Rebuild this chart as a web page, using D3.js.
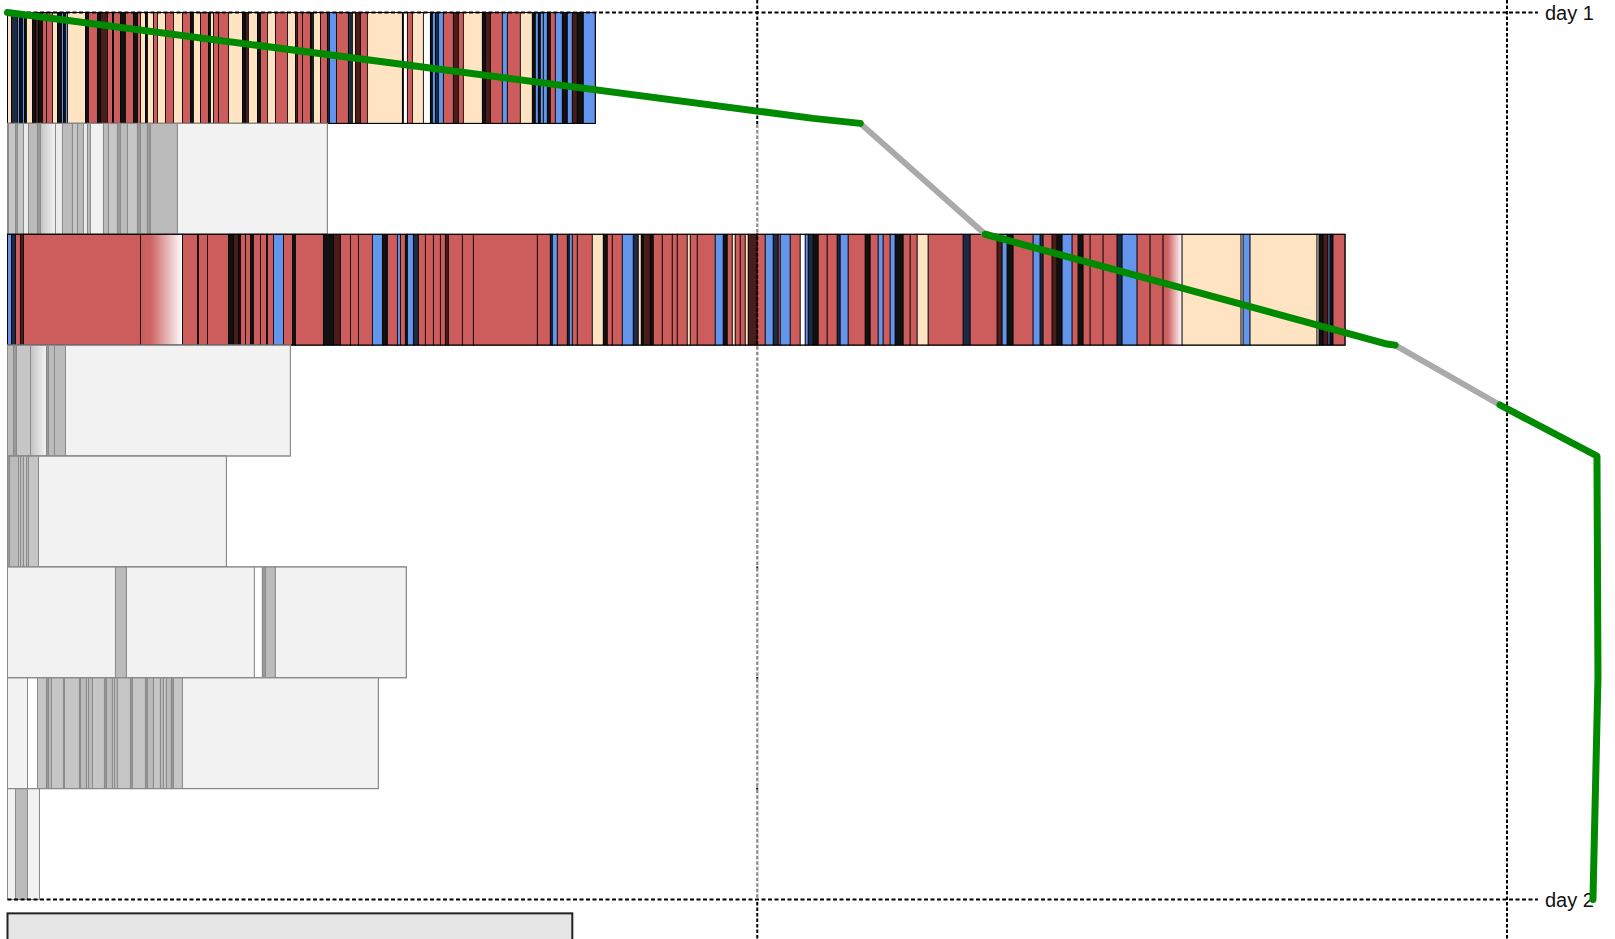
<!DOCTYPE html>
<html>
<head>
<meta charset="utf-8">
<script src="https://cdn.jsdelivr.net/npm/d3@7"></script>
<style>
  body { margin: 0; background: #fff; }
  svg { display: block; }
  text { font-family: "Liberation Sans", Arial, sans-serif; }
</style>
</head>
<body>
<svg id="chart" width="1615" height="939"></svg>
<script>
// each row: [start, colour key], a segment runs to the next start (or the row end)
const row1 = [[0,'b'],[4,'n'],[10,'u'],[12,'k'],[15,'u'],[17,'k'],[19,'b'],[25,'k'],[28,'d'],[31,'k'],
  [35,'r'],[39,'r'],[45,'b'],[50,'k'],[54,'u'],[56,'k'],[58,'u'],[60,'b'],[78,'k'],[81,'r'],[90,'k'],
  [93,'d'],[100,'r'],[105,'k'],[106,'r'],[113,'k'],[118,'r'],[126,'k'],[130,'r'],[133,'b'],[138,'k'],
  [140,'b'],[146,'r'],[150,'b'],[158,'r'],[166,'b'],[175,'r'],[183,'k'],[186,'b'],[193,'r'],[201,'k'],
  [203,'b'],[206,'r'],[211,'r'],[221,'b'],[235,'k'],[238,'d'],[241,'b'],[250,'k'],[253,'r'],[260,'b'],
  [268,'r'],[280,'b'],[288,'d'],[290,'r'],[295,'r'],[303,'k'],[305,'w'],[306,'b'],[313,'r'],[320,'n'],
  [322,'u'],[329,'r'],[341,'n'],[345,'b'],[348,'d'],[353,'r'],[360,'b'],[395,'k'],[396,'w'],[400,'r'],
  [405,'b'],[416,'w'],[423,'k'],[425,'u'],[428,'n'],[431,'u'],[436,'r'],[446,'d'],[451,'r'],[456,'b'],
  [475,'k'],[478,'d'],[483,'r'],[495,'u'],[500,'r'],[513,'b'],[525,'k'],[528,'u'],[531,'k'],[533,'u'],
  [536,'u'],[540,'k'],[543,'r'],[548,'u'],[555,'k'],[560,'u'],[565,'d'],[570,'k'],[576,'u']];

const row2 = [[0,'g9'],[1,'gc'],[8,'g9'],[10,'gc'],[16,'ge'],[21,'gb'],[30,'g9'],[33,'gf'],[48,'ge'],
  [55,'gb'],[65,'gc'],[70,'gb'],[76,'ge'],[80,'gb'],[83,'gl'],[96,'gb'],[101,'gc'],[110,'g9'],[113,'gb'],
  [120,'gc'],[130,'g9'],[133,'gb'],[140,'g9'],[143,'gb'],[170,'gl']];

const row3 = [[0,'u'],[4,'n'],[8,'r'],[13,'d'],[16,'r'],[133,'rf'],[175,'r'],[190,'k'],[191,'r'],[200,'r'],
  [221,'k'],[226,'d'],[231,'k'],[233,'r'],[238,'r'],[243,'k'],[246,'r'],[253,'r'],[259,'k'],[260,'r'],
  [266,'u'],[276,'r'],[285,'k'],[288,'r'],[316,'k'],[326,'d'],[333,'r'],[343,'r'],[351,'r'],[365,'u'],
  [375,'k'],[380,'r'],[390,'u'],[393,'r'],[398,'k'],[400,'u'],[406,'n'],[411,'r'],[418,'r'],[426,'r'],
  [433,'r'],[438,'d'],[441,'r'],[455,'r'],[466,'r'],[530,'r'],[543,'n'],[545,'u'],[550,'r'],[560,'n'],
  [562,'u'],[565,'r'],[570,'r'],[585,'b'],[596,'k'],[600,'r'],[605,'r'],[615,'u'],[626,'n'],[631,'b'],
  [634,'k'],[636,'d'],[643,'k'],[646,'r'],[655,'r'],[665,'r'],[670,'r'],[680,'b'],[683,'r'],[690,'r'],
  [708,'u'],[716,'k'],[720,'r'],[725,'b'],[728,'r'],[733,'r'],[738,'b'],[741,'d'],[750,'r'],[758,'u'],
  [766,'n'],[771,'r'],[773,'u'],[783,'r'],[793,'w'],[798,'u'],[801,'n'],[806,'k'],[811,'r'],[820,'r'],
  [830,'n'],[833,'u'],[841,'r'],[858,'k'],[863,'r'],[871,'u'],[876,'r'],[883,'u'],[888,'k'],[896,'r'],
  [903,'r'],[910,'b'],[921,'r'],[956,'n'],[963,'r'],[990,'d'],[995,'u'],[1000,'k'],[1006,'r'],[1026,'u'],
  [1033,'n'],[1036,'r'],[1045,'d'],[1050,'k'],[1055,'u'],[1065,'r'],[1071,'k'],[1076,'r'],[1083,'r'],
  [1096,'r'],[1110,'n'],[1115,'u'],[1130,'r'],[1143,'r'],[1156,'rf'],[1175,'b'],[1234,'w'],[1236,'u'],
  [1243,'b'],[1310,'w'],[1312,'k'],[1316,'d'],[1321,'u'],[1323,'k'],[1326,'r']];

const row4 = [[0,'gb'],[6,'g9'],[9,'gc'],[23,'gf'],[39,'g9'],[41,'gb'],[47,'gb'],[58,'gl']];
const row5 = [[0,'g9'],[2,'gb'],[11,'gc'],[13,'gb'],[16,'gc'],[19,'gb'],[21,'gc'],[31,'gl']];
const row6 = [[0,'gl'],[108,'gb'],[119,'gl'],[247,'w'],[255,'g9'],[258,'gb'],[268,'gl']];
const row7 = [[0,'gl'],[20,'w'],[30,'gc'],[39,'g9'],[41,'gb'],[44,'gc'],[56,'g9'],[57,'gc'],[72,'g9'],
  [73,'gb'],[79,'gc'],[81,'gb'],[85,'gc'],[97,'g9'],[99,'gb'],[105,'gc'],[107,'gb'],[110,'gc'],[123,'g9'],
  [125,'gc'],[138,'g9'],[140,'gb'],[146,'gc'],[153,'gb'],[156,'gc'],[159,'gb'],[164,'g9'],[166,'gc'],
  [175,'gl']];
const row8 = [[0,'gl'],[8,'gb'],[20,'gl']];

const rows = [row1, row2, row3, row4, row5, row6, row7, row8];
const rowEnds = [588, 320, 1338, 283, 219, 399, 371, 32];
const activeRows = [0, 2];          // rows drawn in colour
const dimRows = [1, 3, 4, 5, 6, 7]; // rows where the first marker is faded

const dayLabels = ['day 1', 'day 2'];
const dayRows = [0, 8];
const markers = [750, 1500];

const footer = [0, 565];
const footerRow = 8.125;

// progress path: [x, row position], and whether each piece is on (green) or off (grey)
const pathPoints = [[0,0],[806,0.955],[853,1],[978,2],[1380,2.99],[1388,3],[1493,3.54],[1590,4],[1591,6],[1586,8]];
const pathKinds = ['on','on','off','on','on','off','on','on','on'];

const keys   = ['r','b','u','k','n','d','w','rf','g9','gb','gc','ge','gl','gf'];
const fills  = ['#cd5c5c','#ffe4c4','#6495ed','#111111','#1d2a44','#4a1c1c','#ffffff','url(#fadeRed)',
                '#9a9a9a','#bbbbbb','#c6c6c6','#ececec','#f2f2f2','url(#fadeGray)'];
const colour = d3.scaleOrdinal(keys, fills);

const x = d3.scaleLinear().domain([0, 1500]).range([7.5, 1507]);
const y = d3.scaleLinear().domain([0, 8]).range([12.5, 899.5]);

const svg = d3.select('#chart');
const defs = svg.append('defs');

const gr = defs.append('linearGradient').attr('id', 'fadeRed');
gr.append('stop').attr('offset', '0%').attr('stop-color', '#cd5c5c');
gr.append('stop').attr('offset', '25%').attr('stop-color', '#cf6464');
gr.append('stop').attr('offset', '100%').attr('stop-color', '#ffffff');

const gg = defs.append('linearGradient').attr('id', 'fadeGray');
gg.append('stop').attr('offset', '0%').attr('stop-color', '#c2c2c2');
gg.append('stop').attr('offset', '100%').attr('stop-color', '#f4f4f4');

// bars
rows.forEach((segs, i) => {
  const active = activeRows.includes(i);
  const data = segs.map((s, j) => ({
    start: s[0],
    end: j < segs.length - 1 ? segs[j + 1][0] : rowEnds[i],
    key: s[1]
  }));
  const g = svg.append('g').attr('class', 'row');
  g.selectAll('rect')
    .data(data)
    .join('rect')
    .attr('x', d => x(d.start))
    .attr('y', y(i))
    .attr('width', d => x(d.end) - x(d.start))
    .attr('height', y(i + 1) - y(i))
    .attr('fill', d => colour(d.key))
    .attr('stroke', active ? '#000' : '#8a8a8a')
    .attr('stroke-width', active ? 0.8 : 1);
  g.append('rect')
    .attr('x', x(0))
    .attr('y', y(i))
    .attr('width', x(rowEnds[i]) - x(0))
    .attr('height', y(i + 1) - y(i))
    .attr('fill', 'none')
    .attr('stroke', active ? '#000' : '#8a8a8a')
    .attr('stroke-width', 1);
});

// footer bar
svg.append('rect')
  .attr('x', x(footer[0]))
  .attr('y', y(footerRow))
  .attr('width', x(footer[1]) - x(footer[0]))
  .attr('height', 60)
  .attr('fill', '#e6e6e6')
  .attr('stroke', '#222')
  .attr('stroke-width', 2);

// day lines and labels
svg.selectAll('line.day')
  .data(dayRows)
  .join('line')
  .attr('class', 'day')
  .attr('x1', x(0))
  .attr('x2', x(1531))
  .attr('y1', d => y(d))
  .attr('y2', d => y(d))
  .attr('stroke', '#000')
  .attr('stroke-width', 2)
  .attr('stroke-dasharray', '4,2.5');

svg.selectAll('text.day')
  .data(dayRows)
  .join('text')
  .attr('class', 'day')
  .attr('x', x(1538))
  .attr('y', d => y(d))
  .attr('dy', '0.38em')
  .attr('font-size', 20)
  .attr('fill', '#111')
  .text((d, i) => dayLabels[i]);

// markers
svg.selectAll('line.marker')
  .data(markers)
  .join('line')
  .attr('class', 'marker')
  .attr('x1', d => x(d))
  .attr('x2', d => x(d))
  .attr('y1', 0)
  .attr('y2', 939)
  .attr('stroke', '#000')
  .attr('stroke-width', 2)
  .attr('stroke-dasharray', '3.5,2');

const dim = svg.append('g');
dim.selectAll('line.blank')
  .data(dimRows)
  .join('line')
  .attr('x1', x(markers[0]))
  .attr('x2', x(markers[0]))
  .attr('y1', d => y(d) + 1)
  .attr('y2', d => y(d + 1) - 1)
  .attr('stroke', '#fff')
  .attr('stroke-width', 3);
dim.selectAll('line.grey')
  .data(dimRows)
  .join('line')
  .attr('x1', x(markers[0]))
  .attr('x2', x(markers[0]))
  .attr('y1', d => y(d) + 1)
  .attr('y2', d => y(d + 1) - 1)
  .attr('stroke', '#8c8c8c')
  .attr('stroke-width', 2.2)
  .attr('stroke-dasharray', '3.5,2');

// progress path, split into runs
const runs = [];
pathKinds.forEach((k, i) => {
  const last = runs[runs.length - 1];
  if (last && last.kind === k) last.pts.push(pathPoints[i + 1]);
  else runs.push({ kind: k, pts: [pathPoints[i], pathPoints[i + 1]] });
});
const line = d3.line().x(d => x(d[0])).y(d => y(d[1]));

svg.append('g')
  .selectAll('path')
  .data(runs.sort((a, b) => (a.kind === 'off' ? -1 : 1) - (b.kind === 'off' ? -1 : 1)))
  .join('path')
  .attr('d', d => line(d.pts))
  .attr('fill', 'none')
  .attr('stroke', d => d.kind === 'on' ? '#008a00' : '#aaaaaa')
  .attr('stroke-width', d => d.kind === 'on' ? 7 : 6)
  .attr('stroke-linecap', 'round')
  .attr('stroke-linejoin', 'round');
</script>
</body>
</html>
